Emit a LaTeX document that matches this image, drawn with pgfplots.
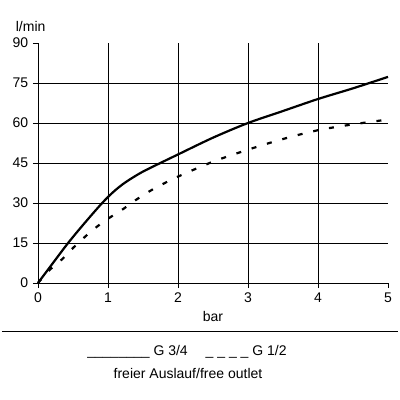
\documentclass[border=0pt]{standalone}
\usepackage{fontspec}
\setmainfont{Liberation Sans}
\usepackage{pgfplots}
\pgfplotsset{compat=1.18}

\begin{document}
\fontsize{14}{16}\selectfont
\begin{tikzpicture}
\useasboundingbox (-38pt,-117pt) rectangle (362pt,283pt);
\begin{axis}[
    at={(0pt,0pt)}, anchor=south west,
    scale only axis,
    width=350pt, height=240pt,
    xmin=0, xmax=5, ymin=0, ymax=90,
    axis lines=left,
    axis line style={-, line width=0.9pt},
    xtick={0,...,5},
    ytick={0,15,...,90},
    tick align=outside,
    major tick length=5pt,
    tick style={black, line width=0.9pt},
    extra x ticks={1,2,3,4}, extra x tick labels={},
    extra x tick style={grid=major, major tick length=0pt},
    extra y ticks={15,30,45,60,75}, extra y tick labels={},
    extra y tick style={grid=major, major tick length=0pt},
    grid style={black, line width=0.9pt},
    /pgf/number format/assume math mode=true,
    ticklabel style={font=\fontsize{14}{16}\selectfont},
    clip=false,
]
% G 3/4
\addplot[black, line width=2.2pt, smooth, tension=0.5] coordinates {
    (0,0) (0.2,7.0) (0.43,15) (0.67,22.6) (0.91,29.8) (1.07,34.0)
    (1.24,37.6) (1.48,41.5) (1.74,44.9) (2,48.2) (2.5,54.5) (3,60)
    (3.5,64.5) (4,69) (4.5,73) (5,77.3)
};
% G 1/2
\addplot[black, line width=2.2pt, smooth, tension=0.5, dash pattern=on 5pt off 11pt] coordinates {
    (0,0) (0.17,5) (0.34,8.8) (0.48,12.6) (0.62,16.1) (0.77,19.6) (0.96,23.4)
    (1.22,27.8) (1.39,31) (1.58,34.2) (1.76,36.8) (2,39.9) (2.5,45.5)
    (3,50) (3.5,54) (4,57.3) (4.5,59.5) (5,61.3)
};
\end{axis}
\node[anchor=west] at (-27pt,257pt) {l/min};
\node at (175pt,-33pt) {bar};
\draw[line width=1pt] (-36pt,-48pt) -- (360pt,-48pt);
\node at (149pt,-69pt) {\_\_\_\_\_\_\_\_ G 3/4\quad\ \_ \_ \_ \_ G 1/2};
\node at (150pt,-90pt) {freier Auslauf/free outlet};
\end{tikzpicture}
\end{document}
